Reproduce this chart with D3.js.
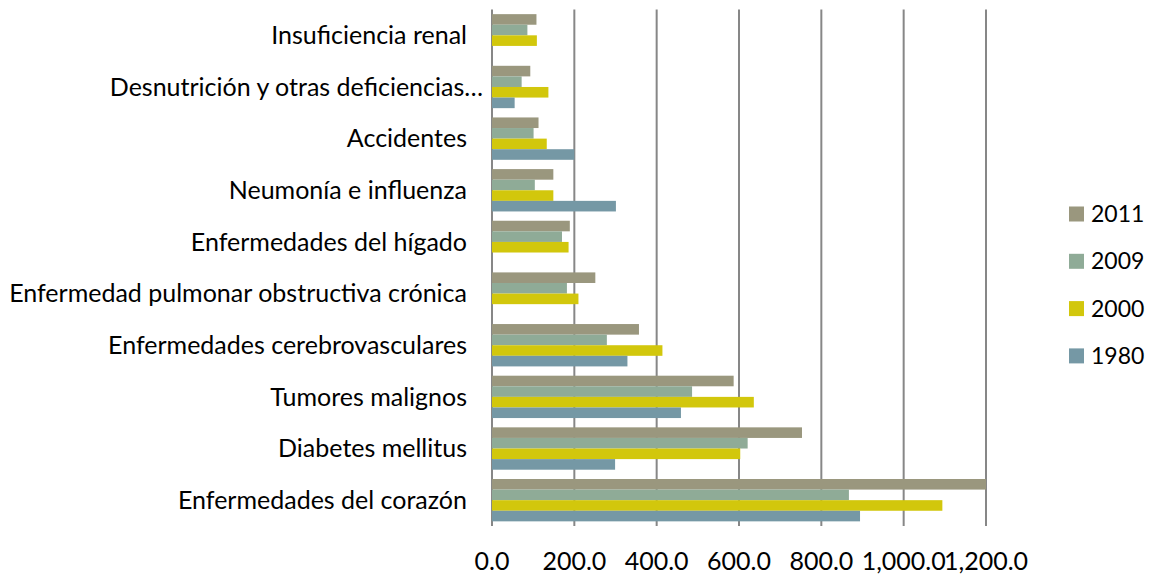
<!doctype html>
<html lang="es">
<head>
<meta charset="utf-8">
<title>Causas de muerte</title>
<style>
  body { margin: 0; background: #fff; }
  text { font-family: Lato, "Open Sans", sans-serif; fill: #000; }
</style>
</head>
<body>
<script src="https://d3js.org/d3.v7.min.js"></script>
<script>
// categories, bottom to top as in the picture
var categories = [
  "Enfermedades del corazón",
  "Diabetes mellitus",
  "Tumores malignos",
  "Enfermedades cerebrovasculares",
  "Enfermedad pulmonar obstructiva crónica",
  "Enfermedades del hígado",
  "Neumonía e influenza",
  "Accidentes",
  "Desnutrición y otras deficiencias…",
  "Insuficiencia renal"
];
var years = ["2011", "2009", "2000", "1980"];
var v2011 = [1200, 753, 587, 357, 251, 189, 149, 113, 93, 108];
var v2009 = [867, 621, 486, 279, 182, 170, 104, 101, 72, 86];
var v2000 = [1094, 603, 636, 414, 210, 186, 149, 133, 137, 109];
var v1980 = [894, 299, 459, 329, null, null, 301, 200, 55, null];
var ticks = [0, 200, 400, 600, 800, 1000, 1200];
var colors = ["#9a977e", "#8fab97", "#d2c70c", "#7598a5"];

var series = [v2011, v2009, v2000, v1980];

var w = 1150, h = 574;
var mLeft = 492, mRight = 986, mTop = 9.5, mBottom = 526;

var svg = d3.select("body").append("svg")
  .attr("width", w).attr("height", h);

var x = d3.scaleLinear().domain([0, 1200]).range([mLeft, mRight]);
var y = d3.scaleBand().domain(categories.slice().reverse())
  .range([mTop, mBottom]).paddingInner(0.18).paddingOuter(0.09);
var yInner = d3.scaleBand().domain(years).range([0, y.bandwidth()]);

// gridlines
svg.append("g").selectAll("line")
  .data(ticks).enter().append("line")
  .attr("x1", function(d) { return x(d); })
  .attr("x2", function(d) { return x(d); })
  .attr("y1", mTop)
  .attr("y2", mBottom)
  .attr("stroke", "#878787")
  .attr("stroke-width", 2);

// bars
var groups = svg.append("g").selectAll("g")
  .data(categories).enter().append("g")
  .attr("transform", function(d) { return "translate(0," + y(d) + ")"; });

groups.selectAll("rect")
  .data(function(d, i) {
    return years.map(function(yr, j) { return { year: yr, value: series[j][i], c: colors[j] }; })
      .filter(function(e) { return e.value != null; });
  })
  .enter().append("rect")
  .attr("x", x(0))
  .attr("y", function(d) { return yInner(d.year); })
  .attr("width", function(d) { return x(d.value) - x(0); })
  .attr("height", yInner.bandwidth())
  .attr("fill", function(d) { return d.c; });

// category labels (the truncated one runs a little past the others, as in Excel)
svg.append("g").selectAll("text")
  .data(categories).enter().append("text")
  .attr("x", function(d) { return d.slice(-1) == "…" ? 483 : 467; })
  .attr("y", function(d) { return y(d) + y.bandwidth() / 2; })
  .attr("dy", "0.35em")
  .attr("text-anchor", "end")
  .style("font-size", "25px")
  .text(function(d) { return d; });

// value axis labels
svg.append("g").selectAll("text")
  .data(ticks).enter().append("text")
  .attr("x", function(d) { return x(d); })
  .attr("y", 561)
  .attr("dy", "0.35em")
  .attr("text-anchor", "middle")
  .style("font-size", "25px")
  .text(function(d) { return d3.format(",.1f")(d); });

// legend
var legend = svg.append("g").selectAll("g")
  .data(years).enter().append("g")
  .attr("transform", function(d, i) { return "translate(1069," + (214 + i * 47.3) + ")"; });

legend.append("rect")
  .attr("x", 0).attr("y", -7.5)
  .attr("width", 15).attr("height", 15)
  .attr("fill", function(d, i) { return colors[i]; });

legend.append("text")
  .attr("x", 22).attr("y", 0)
  .attr("dy", "0.35em")
  .style("font-size", "23px")
  .text(function(d) { return d; });
</script>
</body>
</html>
